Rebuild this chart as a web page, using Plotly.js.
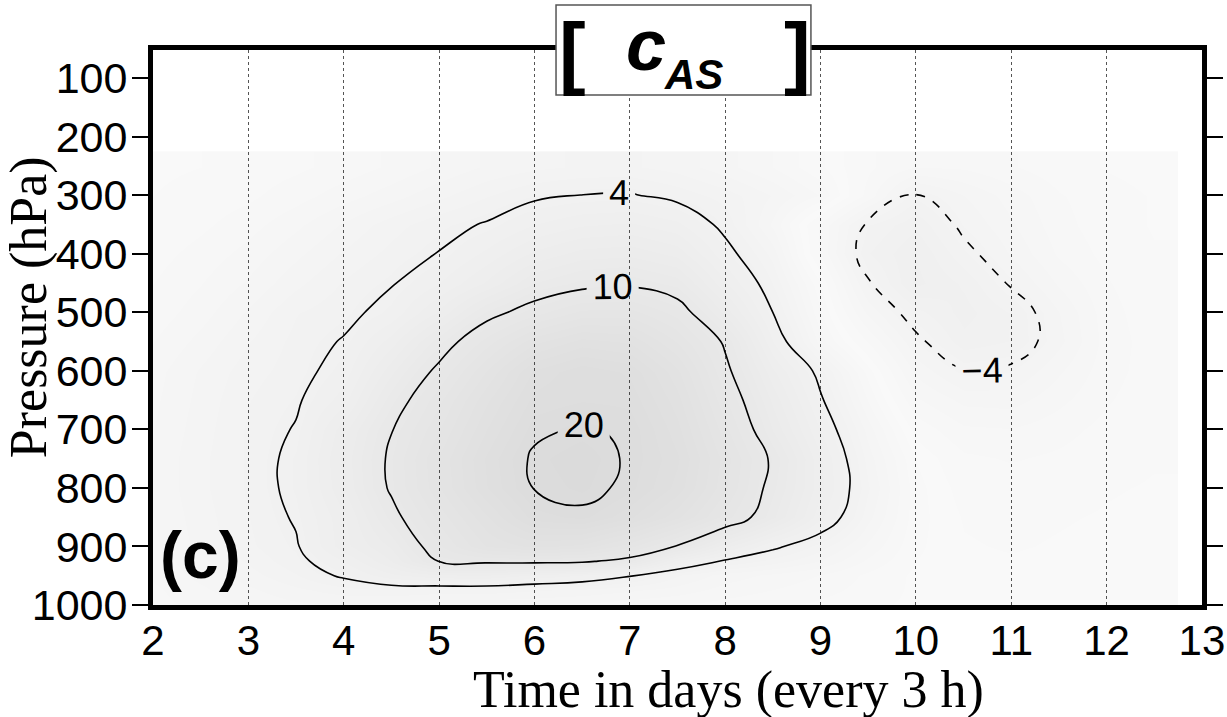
<!DOCTYPE html>
<html>
<head>
<meta charset="utf-8">
<script src="https://cdn.plot.ly/plotly-3.0.1.min.js"></script>
<style>
  html, body { margin: 0; padding: 0; background: #fff; }
  #chart { width: 1227px; height: 717px; }
</style>
</head>
<body>
<div id="chart"></div>
<script>
// time axis (days) and pressure levels (hPa) of the grid
const days = [2, 2.5, 3, 3.5, 4, 4.5, 5, 5.5, 6, 6.5, 7, 7.5, 8, 8.5, 9, 9.5, 10, 10.5, 11, 11.5, 12, 12.5, 13];
const pressure = [50, 100, 150, 200, 250, 300, 350, 400, 450, 500, 550, 600, 650, 700, 750, 800, 850, 900, 925, 950, 975, 1000];

// c_AS field, one row per pressure level
const cAS = [
    [0, 0, 0, 0, 0, 0, 0, 0, 0, 0, 0, 0, 0, 0, 0, 0, 0, 0, 0, 0, 0, 0, 0],
    [0, 0, 0, 0, 0, 0, 0, 0, 0, 0, 0, 0, 0, 0, 0, 0, 0, 0, 0, 0, 0, 0, 0],
    [0, 0, 0, 0, 0, 0.1, 0.2, 0.3, 0.4, 0.4, 0.4, 0.3, 0.2, 0.1, 0, 0, -0.1, -0.1, 0, 0, 0, 0, 0],
    [0, 0, 0, 0.1, 0.2, 0.3, 0.6, 0.9, 1.1, 1.2, 1.2, 1.0, 0.7, 0.4, 0.1, -0.2, -0.4, -0.4, -0.2, -0.1, 0, 0, 0],
    [0.1, 0.2, 0.4, 0.6, 0.9, 1.3, 1.8, 2.3, 2.6, 2.8, 2.8, 2.5, 1.9, 1.2, 0.3, -0.8, -1.6, -1.5, -1.0, -0.5, -0.2, 0, 0],
    [0.2, 0.4, 0.6, 1.0, 1.5, 2.0, 2.6, 3.2, 3.75, 4.02, 4.1, 3.6, 3.0, 2.2, 1.2, -1.2, -4.2, -3.0, -2.0, -1.0, -0.5, -0.2, 0],
    [0.3, 0.6, 1.0, 1.6, 2.3, 3.0, 3.6, 4.1, 5.0, 5.6, 5.8, 5.2, 3.6, 1.6, -1.0, -4.3, -5.6, -3.6, -2.4, -1.2, -0.5, -0.2, 0],
    [0.5, 0.9, 1.4, 2.1, 2.8, 3.4, 4.05, 5.2, 6.5, 7.3, 7.5, 6.8, 4.5, 2.5, -1.0, -5.0, -6.4, -4.5, -2.9, -1.5, -0.7, -0.3, -0.1],
    [0.7, 1.2, 1.8, 2.6, 3.3, 3.9, 5.0, 6.5, 8.4, 9.3, 9.6, 8.8, 5.8, 3.2, 0.3, -3.8, -6.6, -5.6, -3.8, -2.2, -1.0, -0.4, -0.2],
    [0.9, 1.5, 2.3, 3.2, 3.6, 4.5, 6.5, 9.2, 11.0, 12.5, 12.6, 11.0, 7.5, 4.0, 0.8, -2.5, -4.8, -6.0, -5.0, -3.0, -1.2, -0.5, -0.2],
    [1.2, 1.9, 2.7, 3.4, 4.1, 6.0, 8.8, 11.8, 14.5, 16.0, 15.5, 13.0, 9.7, 5.0, 1.5, -1.0, -3.6, -5.5, -5.0, -3.2, -1.3, -0.6, -0.2],
    [1.5, 2.3, 3.0, 3.5, 4.6, 7.5, 10.5, 14.0, 17.5, 18.8, 18.0, 15.0, 10.5, 6.5, 3.5, 0.5, -2.5, -3.9, -3.7, -2.4, -1.2, -0.6, -0.2],
    [1.6, 2.4, 3.2, 3.8, 5.4, 8.8, 12.0, 15.5, 18.5, 19.0, 18.8, 16.0, 11.5, 7.5, 4.2, 1.2, -1.5, -2.5, -2.6, -1.8, -1.0, -0.5, -0.2],
    [1.7, 2.5, 3.3, 4.1, 6.8, 9.9, 13.0, 16.5, 19.5, 20.3, 19.6, 16.8, 12.5, 8.3, 5.0, 2.0, -0.5, -1.5, -1.6, -1.2, -0.7, -0.4, -0.1],
    [1.8, 2.6, 3.3, 4.4, 7.2, 10.4, 14.0, 17.5, 20.4, 21.5, 19.6, 17.5, 13.5, 9.6, 5.8, 2.5, 0.2, -0.8, -1.0, -0.8, -0.5, -0.3, -0.1],
    [1.8, 2.6, 3.3, 4.4, 7.0, 10.3, 13.8, 17.3, 20.1, 21.0, 19.3, 17.0, 13.2, 9.2, 5.9, 2.8, 0.4, -0.5, -0.6, -0.5, -0.3, -0.2, 0],
    [1.7, 2.5, 3.2, 4.15, 6.2, 9.3, 12.5, 15.5, 18.6, 19.3, 17.5, 15.0, 11.8, 8.5, 5.2, 2.4, 0.4, -0.3, -0.4, -0.3, -0.2, -0.1, 0],
    [1.6, 2.4, 3.1, 3.85, 6.1, 7.8, 11.2, 14.0, 15.0, 14.5, 12.5, 9.8, 6.6, 4.3, 3.0, 1.6, 0.3, -0.2, -0.3, -0.2, -0.1, 0, 0],
    [1.4, 2.1, 2.8, 3.6, 5.0, 7.0, 10.1, 10.5, 10.6, 10.4, 9.2, 5.5, 3.8, 3.0, 2.2, 1.1, 0.2, -0.1, -0.2, -0.1, 0, 0, 0],
    [1.3, 1.9, 2.5, 3.2, 4.2, 5.5, 6.3, 6.4, 5.6, 5.0, 4.1, 2.8, 2.0, 1.6, 1.2, 0.6, 0.1, 0, 0, 0, 0, 0, 0],
    [1.1, 1.6, 2.1, 2.6, 3.0, 3.2, 3.0, 3.0, 2.8, 2.6, 2.3, 2.0, 1.5, 1.2, 0.9, 0.5, 0.1, 0, 0, 0, 0, 0, 0],
    [1.0, 1.4, 1.8, 2.1, 2.2, 2.0, 1.8, 1.8, 1.7, 1.6, 1.4, 1.2, 1.0, 0.8, 0.6, 0.3, 0.1, 0, 0, 0, 0, 0, 0]
];

const levels = [-4, 4, 10, 20];
const pressureTicks = [100, 200, 300, 400, 500, 600, 700, 800, 900, 1000];
const dayTicks = [2, 3, 4, 5, 6, 7, 8, 9, 10, 11, 12, 13];

// shaded area only covers the analysed part of the domain (p >= 250, t <= 12.5)
const shadeRows = pressure.slice(4);
const shadeDays = days.slice(0, 22);
const shadeZ = cAS.slice(4).map(r => r.slice(0, 22));

const traces = [
    {
        type: "heatmap",
        x: shadeDays,
        y: shadeRows,
        z: shadeZ,
        zsmooth: "best",
        zmin: -8,
        zmax: 22,
        showscale: false,
        hoverinfo: "skip",
        colorscale: [
            [0, "rgba(0,0,0,0.07)"],
            [0.267, "rgba(0,0,0,0.024)"],
            [0.4, "rgba(0,0,0,0.055)"],
            [0.6, "rgba(0,0,0,0.09)"],
            [1, "rgba(0,0,0,0.145)"]
        ]
    }
];

levels.forEach(lv => {
    traces.push({
        type: "contour",
        x: days,
        y: pressure,
        z: cAS,
        showscale: false,
        hoverinfo: "skip",
        contours: {
            coloring: "none",
            start: lv,
            end: lv,
            size: 1,
            showlabels: true,
            labelfont: { family: "Liberation Sans, Arial", size: 36, color: "black" }
        },
        line: { color: "black", width: 1.6, dash: lv < 0 ? "dash" : "solid", smoothing: 1.3 }
    });
});

const titleFont = { family: "Liberation Serif, Times New Roman", color: "black" };

const layout = {
    width: 1227,
    height: 717,
    showlegend: false,
    paper_bgcolor: "white",
    plot_bgcolor: "white",
    margin: { l: 153, r: 25, t: 50, b: 112 },
    font: { family: "Liberation Sans, Arial", color: "black" },

    xaxis: {
        range: [2, 13.001],
        tickvals: dayTicks,
        ticks: "",
        ticklabelstandoff: -5,
        ticklabeloverflow: "allow",
        tickfont: { size: 42 },
        showline: true,
        linewidth: 5,
        linecolor: "black",
        mirror: true,
        showgrid: true,
        gridcolor: "#555",
        griddash: "dot",
        gridwidth: 1,
        zeroline: false
    },

    yaxis: {
        range: [1000, 52],
        tickvals: pressureTicks,
        ticks: "outside",
        ticklen: 16,
        tickwidth: 2,
        tickcolor: "black",
        ticklabelstandoff: -4,
        tickfont: { size: 43 },
        showline: true,
        linewidth: 5,
        linecolor: "black",
        mirror: "ticks",
        showgrid: false,
        zeroline: false
    },

    shapes: [
        // title box over the top frame
        {
            type: "rect", xref: "paper", yref: "paper", layer: "above",
            x0: 0.3842, x1: 0.6272, y0: 0.919, y1: 1.081,
            fillcolor: "white",
            line: { color: "#555", width: 1.5 }
        }
    ],

    annotations: [
        // axis titles
        { text: "Time in days (every 3 h)", xref: "paper", yref: "paper", x: 0.549, y: -0.153,
          showarrow: false, xanchor: "center", yanchor: "middle", font: Object.assign({ size: 52 }, titleFont) },
        { text: "Pressure (hPa)", xref: "paper", yref: "paper", x: -0.118, y: 0.537, textangle: -90,
          showarrow: false, xanchor: "center", yanchor: "middle", font: Object.assign({ size: 52 }, titleFont) },
        // panel title
        { text: "<b>[</b>", xref: "paper", yref: "paper", x: 0.4, y: 0.997, showarrow: false,
          xanchor: "center", yanchor: "middle", font: { size: 80 } },
        { text: "<b>]</b>", xref: "paper", yref: "paper", x: 0.614, y: 0.997, showarrow: false,
          xanchor: "center", yanchor: "middle", font: { size: 80 } },
        { text: "<b><i>c</i></b>", xref: "paper", yref: "paper", x: 0.47, y: 1.009, showarrow: false,
          xanchor: "center", yanchor: "middle", font: { size: 72 } },
        { text: "<b><i>AS</i></b>", xref: "paper", yref: "paper", x: 0.515, y: 0.955, showarrow: false,
          xanchor: "center", yanchor: "middle", font: { size: 42 } },
        { text: "<b>(c)</b>", xref: "paper", yref: "paper", x: 0.045, y: 0.09, showarrow: false,
          xanchor: "center", yanchor: "middle", font: { size: 66 } }
    ]
};

const config = { displayModeBar: false, staticPlot: true };

Plotly.newPlot("chart", traces, layout, config);
</script>
</body>
</html>
